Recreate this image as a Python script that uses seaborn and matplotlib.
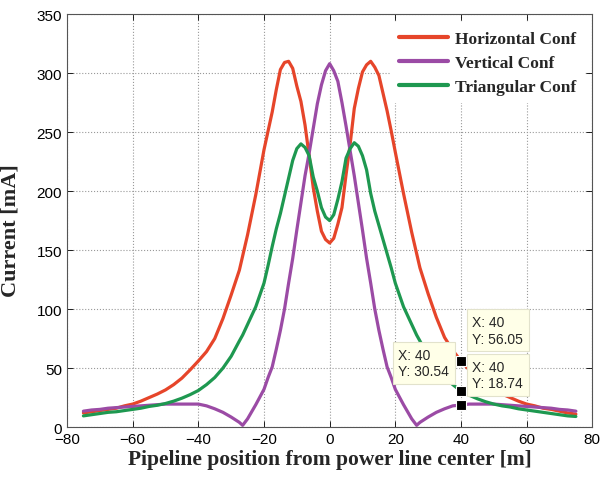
import numpy as np
import pandas as pd
import seaborn as sns
import matplotlib
matplotlib.use("Agg")
import matplotlib.pyplot as plt

# pipeline position [m]
x = [-75, -72.5, -70, -67.5, -65, -62.5, -60, -57.5, -55, -52.5, -50, -47.5, -45, -42.5,
     -40, -37.5, -35, -32.5, -30, -27.5, -26.5, -25, -22.5, -20,
     -18.75, -17.5, -16.25, -15, -13.75, -12.5, -11.25, -10, -8.75, -7.5, -6.25, -5,
     -3.75, -2.5, -1.25, 0, 1.25, 2.5, 3.75, 5, 6.25, 7.5, 8.75, 10, 11.25, 12.5, 13.75,
     15, 16.25, 17.5, 18.75,
     20, 22.5, 25, 26.5, 27.5, 30, 32.5, 35, 37.5, 40, 42.5, 45, 47.5, 50, 52.5, 55,
     57.5, 60, 62.5, 65, 67.5, 70, 72.5, 75]

# current [mA]
horizontal = [12, 13, 14, 15, 16, 18, 19.5, 22, 25, 28, 31.5, 36, 41.5, 48.5,
              56, 64, 75, 92, 112, 133, 145, 163, 197, 235,
              251, 267, 286, 303, 309, 310, 304, 289, 276, 256, 230, 203,
              183, 166, 159, 156, 160, 172, 186, 214, 240, 270, 287, 301, 307, 310, 305,
              298, 283, 268, 251,
              233, 198, 165, 147, 135, 113, 93, 76, 65, 56.05, 48.5, 41.5, 36, 31.5, 28, 25,
              22, 19.5, 18, 16, 15, 13.5, 12, 11]
vertical = [13.5, 14.5, 15, 16, 16.5, 17, 17.5, 18, 18.5, 19, 19.5, 19.5, 19.5, 19.5,
            19.5, 18, 15.5, 12.5, 8.5, 4, 1.5, 7, 19, 32,
            42, 51, 66, 82, 100, 122, 143, 167, 190, 213, 232, 253,
            274, 290, 302, 308, 302, 293, 275, 255, 234, 213, 190, 167, 143, 122, 100,
            82, 66, 51, 42,
            32, 19, 7, 1.5, 4, 8.5, 12.5, 15.5, 18, 18.74, 19.5, 19.5, 19.5, 19.5, 19, 18.5,
            18, 17.5, 17, 16.5, 16, 15, 14.5, 13.5]
triangular = [9.5, 10.5, 11.5, 12.5, 13, 14, 15, 16, 17.5, 18.5, 20, 22, 24.5, 27.5,
              31, 36, 42, 50, 60, 73, 78, 87, 102, 122,
              137, 153, 168, 181, 196, 211, 226, 236, 240, 237, 230, 212,
              200, 186, 178, 175, 180, 193, 208, 228, 236, 241, 238, 230, 218, 198, 183,
              171, 159, 147, 135,
              122, 102, 87, 78, 73, 60, 50, 42, 36, 30.54, 27, 24, 21.5, 19.5, 18, 17,
              15.5, 14.5, 13.5, 12.5, 11.5, 10.5, 9.5, 9]

configs = ["Horizontal Conf", "Vertical Conf", "Triangular Conf"]
colors = ["#E6452A", "#9B4BA5", "#1E9850"]

# data tips
tip_x = 40
tip_y = [56.05, 30.54, 18.74]

df = pd.concat([
    pd.DataFrame({"x": x, "current": horizontal, "config": configs[0]}),
    pd.DataFrame({"x": x, "current": vertical, "config": configs[1]}),
    pd.DataFrame({"x": x, "current": triangular, "config": configs[2]}),
])

sns.set_style("ticks")
plt.rcParams["font.family"] = ["Liberation Sans", "DejaVu Sans"]

fig = plt.figure(figsize=(6.01, 4.81), dpi=100)
ax = fig.add_axes([0.1115, 0.110, 0.874, 0.8586])

sns.lineplot(data=df, x="x", y="current", hue="config", hue_order=configs,
             palette=colors, linewidth=2.3, ax=ax, sort=False)

ax.set_xlim(-80, 80)
ax.set_ylim(0, 350)
ax.set_xticks(np.arange(-80, 81, 20))
ax.set_yticks(np.arange(0, 351, 50))
ax.grid(True, linestyle=":", color="#999999", linewidth=0.8)
ax.tick_params(direction="in", top=True, right=True, labelsize=11, length=4,
               width=0.6, colors="black")
for s in ax.spines.values():
    s.set_color("#555555")
    s.set_linewidth(0.8)

ax.set_xlabel("Pipeline position from power line center [m]", fontsize=15.5,
              fontweight="bold", family="Liberation Serif", labelpad=2)
ax.set_ylabel("Current [mA]", fontsize=16, fontweight="bold",
              family="Liberation Serif")
ax.yaxis.set_label_coords(-0.088, 0.478)

leg = ax.legend(loc="upper right", frameon=True, fancybox=False, framealpha=1,
                edgecolor="none", facecolor="white", handlelength=2.8,
                handletextpad=0.4, labelspacing=0.45, borderaxespad=0.45, borderpad=0.5,
                prop={"family": "Liberation Serif", "weight": "bold", "size": 12.5})
for line in leg.get_lines():
    line.set_linewidth(3)

# datatip markers and boxes
ax.plot([tip_x] * 3, tip_y, linestyle="none", marker="s", markersize=7.5,
        markerfacecolor="black", markeredgecolor="white", markeredgewidth=0.8, zorder=5)
box = dict(boxstyle="square,pad=0.4", fc="#FFFFE8", ec="#E2E2CC", lw=0.8)
ax.text(43.5, 69.1, f"X: {tip_x}\nY: {tip_y[0]:.2f}", fontsize=10, ha="left", va="bottom",
        bbox=box, zorder=6, linespacing=1.25)
ax.text(43.5, 31.1, f"X: {tip_x}\nY: {tip_y[2]:.2f}", fontsize=10, ha="left", va="bottom",
        bbox=box, zorder=6, linespacing=1.25)
ax.text(20.9, 41.2, f"X: {tip_x}\nY: {tip_y[1]:.2f}", fontsize=10, ha="left", va="bottom",
        bbox=box, zorder=6, linespacing=1.25)

fig.savefig("out.png", dpi=100)
